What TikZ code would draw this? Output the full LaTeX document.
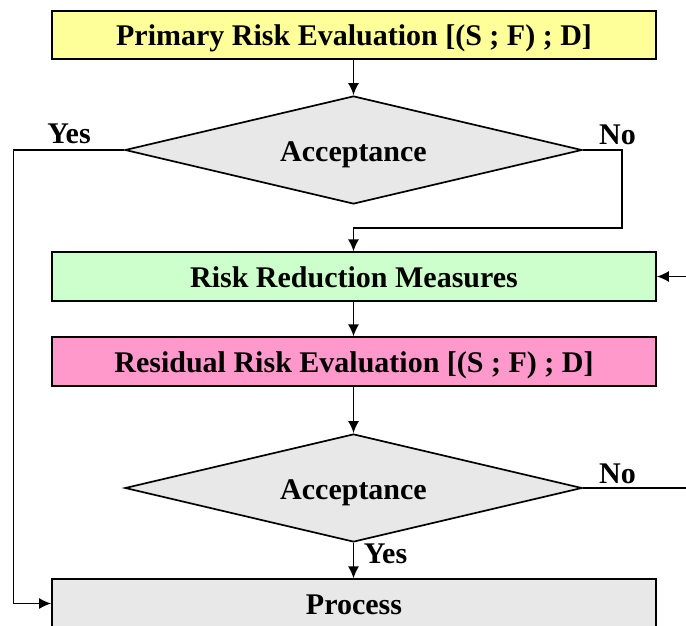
\documentclass[tikz,border=0pt]{standalone}
\usepackage{fontspec}
\setmainfont{Liberation Serif}
\usetikzlibrary{shapes.geometric,arrows.meta}

\definecolor{boxyellow}{HTML}{FFFF99}
\definecolor{boxgreen}{HTML}{CCFFCC}
\definecolor{boxpink}{HTML}{FF99CC}
\definecolor{boxgray}{HTML}{E8E8E8}

\tikzset{
  every node/.style={font=\fontsize{30}{36}\selectfont\bfseries},
  stagebox/.style={draw, line width=1.7pt, rectangle, minimum width=604pt,
    minimum height=48.5pt, inner sep=0pt, text height=26pt, text depth=4pt},
  decision/.style={draw, line width=1.7pt, diamond, fill=boxgray, aspect=4.23,
    minimum width=457pt, minimum height=108pt, inner sep=0pt,
    text height=26pt, text depth=4pt},
  flow/.style={line width=1.7pt, -{Latex[length=12pt,width=11pt]}},
  link/.style={line width=1.7pt},
  branch/.style={inner sep=0pt, anchor=base}
}

\begin{document}
\begin{tikzpicture}[x=1pt,y=-1pt]
  \useasboundingbox (0,0) rectangle (686,626);

  % process stages
  \node[stagebox, fill=boxyellow] (primary) at (354,35) {Primary Risk Evaluation [(S ; F) ; D]};
  \node[decision] (accept1) at (353.5,150) {Acceptance};
  \node[stagebox, fill=boxgreen] (reduce) at (354,276.5) {Risk Reduction Measures};
  \node[stagebox, fill=boxpink] (residual) at (354,361.5) {Residual Risk Evaluation [(S ; F) ; D]};
  \node[decision] (accept2) at (353.5,488) {Acceptance};
  \node[stagebox, fill=boxgray] (process) at (354,603.5) {Process};

  % branch labels
  \node[branch] (yes1) at (69,143) {Yes};
  \node[branch] (no1) at (617.5,144) {No};
  \node[branch] (no2) at (617.5,483) {No};
  \node[branch] (yes2) at (385.5,563) {Yes};

  % loose ends at the right edge
  \coordinate (feedin) at (686,276.5);
  \coordinate (feedout) at (686,488);

  % connectors
  \draw[flow] (primary.south -| accept1.north) -- (accept1.north);
  \draw[flow] (accept1.east) -- (622,150) -- (622,228) -- (353.5,228) -- (reduce.north -| accept1.north);
  \draw[flow] (accept1.west) -- (13.5,150) -- (13.5,603.5) -- (process.west);
  \draw[flow] (feedin) -- (reduce.east);
  \draw[flow] (reduce.south -| accept1.north) -- (residual.north -| accept1.north);
  \draw[flow] (residual.south -| accept2.north) -- (accept2.north);
  \draw[link] (accept2.east) -- (feedout);
  \draw[flow] (accept2.south) -- (process.north -| accept2.south);
\end{tikzpicture}
\end{document}
